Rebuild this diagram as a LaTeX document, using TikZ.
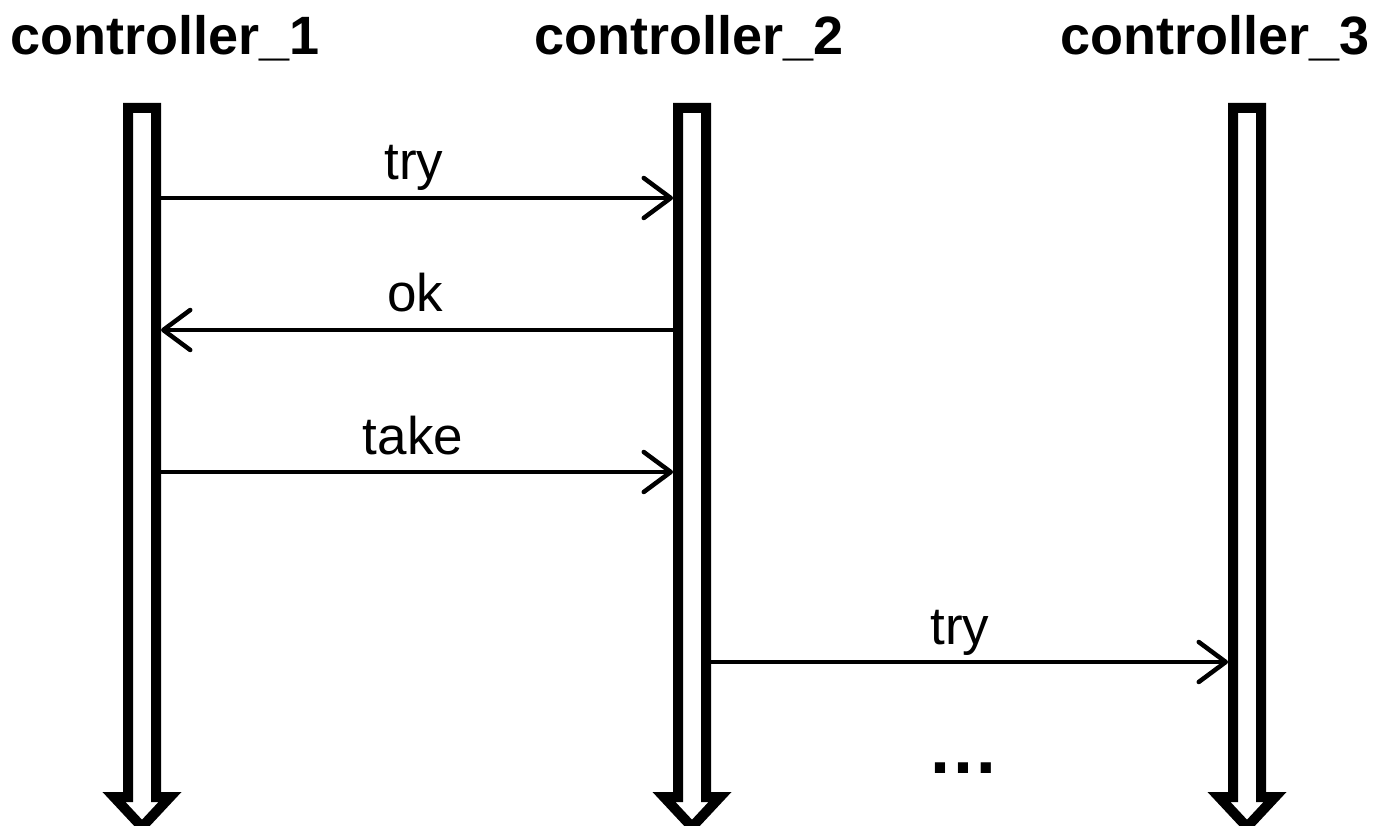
\documentclass[tikz,border=0pt]{standalone}
\usepackage{fontspec}
\setmainfont{Liberation Sans}
\usetikzlibrary{arrows.meta}
\begin{document}
\begin{tikzpicture}[x=1pt,y=-1pt,
  title/.style={anchor=base,inner sep=0pt,font=\fontsize{54}{60}\selectfont\bfseries},
  msglabel/.style={anchor=base,inner sep=0pt,font=\fontsize{53}{60}\selectfont},
  lifeline/.style={draw=black,fill=white,line width=10pt,miter limit=10},
  msg/.style={line width=3.5pt,-{Straight Barb[length=27pt,width=40pt,line width=4.5pt,round]}}]
\useasboundingbox[fill=white] (0,0) rectangle (1393,826);

% hollow downward arrows for the three lifelines
\foreach \c/\n in {142/1,692/2,1247/3}{
  \draw[lifeline] (\c-14,797) -- (\c-14,108) -- (\c+14,108) -- (\c+14,797)
    -- (\c+28,797) -- (\c,827) -- (\c-28,797) -- cycle;
  \coordinate (l\n L) at (\c-19,0);
  \coordinate (l\n R) at (\c+19,0);
}

% headings
\node[title] (h1) at (165,55) {controller\_1};
\node[title] (h2) at (689,55) {controller\_2};
\node[title] (h3) at (1215,55) {controller\_3};

% message endpoints on the lifelines
\coordinate (a1s) at (l1R |- 0,198);
\coordinate (a1e) at (l2L |- 0,198);
\coordinate (a2s) at (l2L |- 0,330);
\coordinate (a2e) at (l1R |- 0,330);
\coordinate (a3s) at (l1R |- 0,472);
\coordinate (a3e) at (l2L |- 0,472);
\coordinate (a4s) at (l2R |- 0,662);
\coordinate (a4e) at (l3L |- 0,662);

\draw[msg] (a1s) -- (a1e);
\draw[msg] (a2s) -- (a2e);
\draw[msg] (a3s) -- (a3e);
\draw[msg] (a4s) -- (a4e);

\node[msglabel] (t1) at (414,180) {try};
\node[msglabel] (t2) at (415,312) {ok};
\node[msglabel] (t3) at (413,454) {take};
\node[msglabel] (t4) at (960,644) {try};

\node[anchor=base,inner sep=0pt,font=\fontsize{72}{80}\selectfont\bfseries] (dots) at (963,773) {…};
\end{tikzpicture}
\end{document}
